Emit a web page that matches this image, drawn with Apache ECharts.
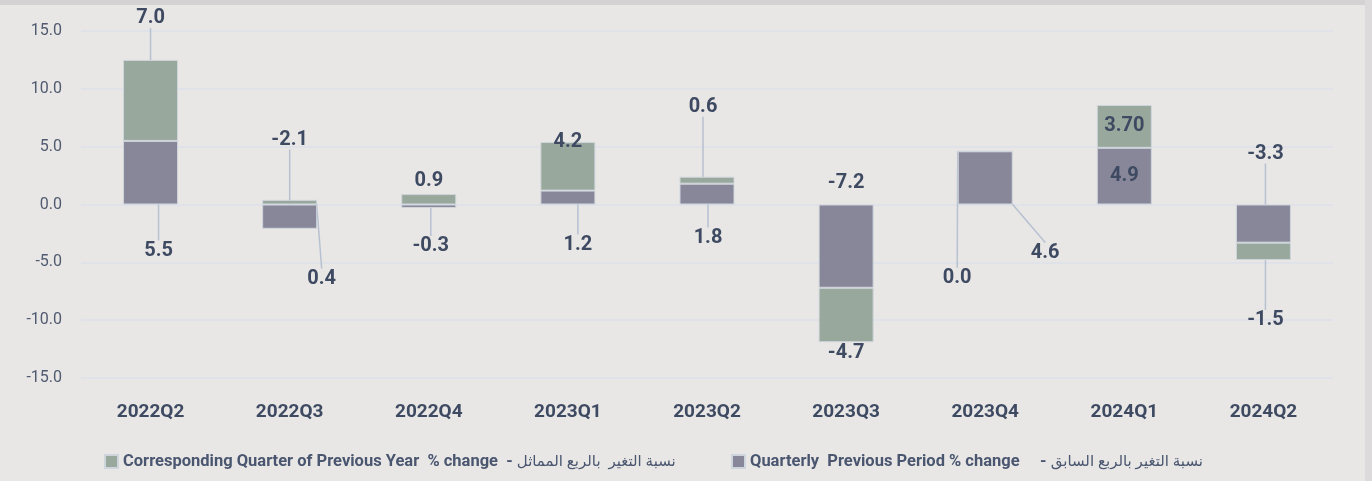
<!DOCTYPE html>
<html>
<head>
<meta charset="utf-8">
<script src="https://cdn.jsdelivr.net/npm/echarts@6/dist/echarts.min.js"></script>
<style>
  html, body { margin: 0; padding: 0; background: #e8e7e5; }
  #main { width: 1372px; height: 481px; }
</style>
</head>
<body>
<div id="main"></div>
<script>
// quarters on the x axis
var quarters = ['2022Q2', '2022Q3', '2022Q4', '2023Q1', '2023Q2', '2023Q3', '2023Q4', '2024Q1', '2024Q2'];

// Quarterly Previous Period % change (purple)
var quarterly = [5.5, -2.1, -0.3, 1.2, 1.8, -7.2, 4.6, 4.9, -3.3];
var quarterlyLabels = ['5.5', '-2.1', '-0.3', '1.2', '1.8', '-7.2', '4.6', '4.9', '-3.3'];

// Corresponding Quarter of Previous Year % change (green)
var yearly = [7.0, 0.4, 0.9, 4.2, 0.6, -4.7, 0.0, 3.7, -1.5];
var yearlyLabels = ['7.0', '0.4', '0.9', '4.2', '0.6', '-4.7', '0.0', '3.70', '-1.5'];

var yTicks = { min: -15, max: 15, step: 5 };

var nameQuarterly = 'Quarterly  Previous Period % change';
var arQuarterly = 'نسبة التغير بالربع السابق';
var nameYearly = 'Corresponding Quarter of Previous Year  % change';
var arYearly = 'نسبة التغير  بالربع المماثل';

// label placement: [edge of bar, dx, dy], null = stays inside the bar
var quarterlyPos = [['bottom', 8, 46], ['top', 0, -65], ['bottom', 2, 38], ['bottom', 10, 40], ['bottom', 1, 33],
  ['top', 0, -22], ['bottom', 60, 48], null, ['top', 2, -51]];
var yearlyPos = [['top', 0, -42], ['bottom', 32, 74], ['top', 0, -13], ['top', 0, 0], ['top', -4, -70],
  ['bottom', 0, 11], ['top', -28, 127], null, ['bottom', 2, 60]];
// leader line on / off
var quarterlyLine = [1, 1, 1, 1, 1, 0, 1, 0, 1];
var yearlyLine = [1, 1, 0, 0, 1, 0, 1, 0, 1];

var textColor = '#3e4a62';
var purple = '#878799';
var green = '#99a89c';

function items(values, lines) {
  return values.map(function (v, i) {
    return { value: v, labelLine: { show: lines[i] > 0 } };
  });
}

function placeLabel(pos) {
  return function (p) {
    var o = pos[p.dataIndex];
    if (!o) return {};
    var r = p.rect;
    var base = o[0] === 'top' ? r.y : r.y + r.height;
    return { x: r.x + r.width / 2 + o[1], y: base + o[2], align: 'center', verticalAlign: 'middle' };
  };
}

function barLabel(texts) {
  return {
    show: true,
    position: 'inside',
    padding: [6, 4],
    color: textColor,
    fontFamily: 'Roboto',
    fontWeight: 'bold',
    fontSize: 20,
    formatter: function (p) { return texts[p.dataIndex]; }
  };
}

var legendText = {
  fontFamily: 'Roboto',
  fontSize: 16.5,
  color: '#4a5670',
  rich: {
    en: { fontFamily: 'Roboto', fontWeight: 'bold', fontSize: 16.5, color: '#4a5670' },
    ar: { fontFamily: 'Noto Sans, DejaVu Sans', fontSize: 15, color: '#4a5670' }
  }
};

var chart = echarts.init(document.getElementById('main'));

var option = {
  animation: false,
  backgroundColor: '#e8e7e5',
  graphic: [
    { type: 'rect', left: 0, top: 0, shape: { width: 1372, height: 5 }, style: { fill: '#d4d2d3' }, silent: true },
    { type: 'rect', right: 0, top: 0, shape: { width: 7, height: 481 }, style: { fill: '#dcdada' }, silent: true }
  ],
  grid: { left: 81, right: 39, top: 31, bottom: 103 },
  legend: [
    {
      data: [nameYearly], left: 104, top: 453, padding: 0, itemWidth: 13, itemHeight: 13, itemGap: 6, icon: 'rect',
      formatter: function (n) { return '{en|' + n + '}{en|  - }{ar|' + arYearly + '}'; },
      textStyle: legendText
    },
    {
      data: [nameQuarterly], left: 731, top: 453, padding: 0, itemWidth: 13, itemHeight: 13, itemGap: 6, icon: 'rect',
      formatter: function (n) { return '{en|' + n + '}{en|     - }{ar|' + arQuarterly + '}'; },
      textStyle: legendText
    }
  ],
  xAxis: {
    type: 'category',
    data: quarters,
    axisLine: { show: false },
    axisTick: { show: false },
    axisLabel: { margin: 25, color: textColor, fontFamily: 'Roboto', fontWeight: 'bold', fontSize: 19 }
  },
  yAxis: {
    type: 'value',
    min: yTicks.min,
    max: yTicks.max,
    interval: yTicks.step,
    axisLine: { show: false },
    axisTick: { show: false },
    splitLine: { lineStyle: { color: '#dde2ea', width: 1.5 } },
    axisLabel: {
      margin: 19, color: '#505a70', fontFamily: 'Roboto', fontSize: 16,
      formatter: function (v) { return v.toFixed(1); }
    }
  },
  series: [
    {
      name: nameQuarterly,
      type: 'bar',
      stack: 'total',
      barWidth: 55,
      data: items(quarterly, quarterlyLine),
      itemStyle: { color: purple, borderColor: '#cfd5dc', borderWidth: 1 },
      label: barLabel(quarterlyLabels),
      labelLine: { show: true, lineStyle: { color: '#b7c1d1', width: 1.5 } },
      labelLayout: placeLabel(quarterlyPos)
    },
    {
      name: nameYearly,
      type: 'bar',
      stack: 'total',
      barWidth: 55,
      data: items(yearly, yearlyLine),
      itemStyle: { color: green, borderColor: '#cfd5dc', borderWidth: 1 },
      label: barLabel(yearlyLabels),
      labelLine: { show: true, lineStyle: { color: '#b7c1d1', width: 1.5 } },
      labelLayout: placeLabel(yearlyPos)
    }
  ]
};

chart.setOption(option);
</script>
</body>
</html>
